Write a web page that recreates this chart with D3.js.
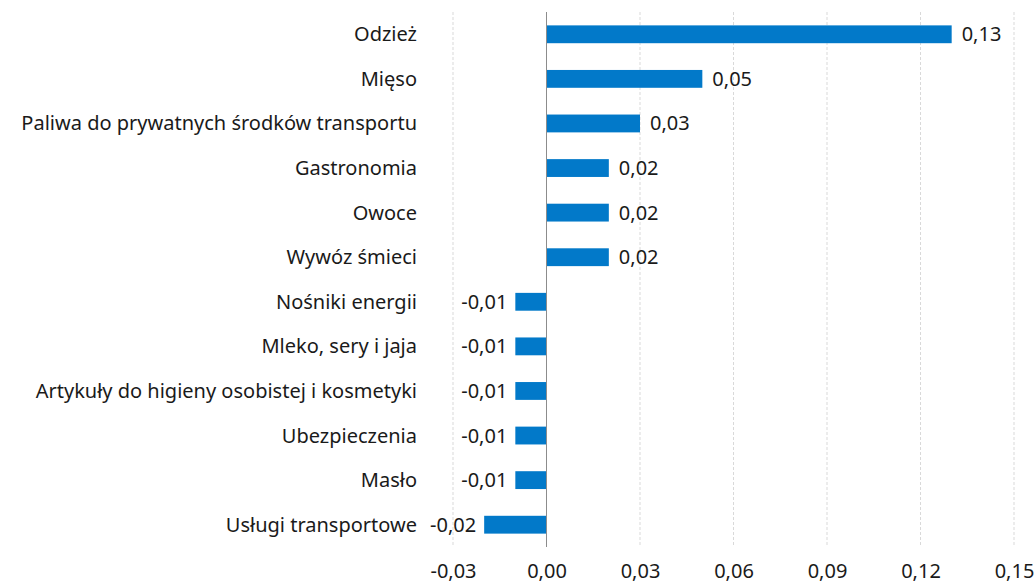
<!DOCTYPE html>
<html>
<head>
<meta charset="utf-8">
<script src="https://cdn.jsdelivr.net/npm/d3@7"></script>
<style>
  body { margin: 0; background: #fff; }
  text { font-family: "Noto Sans", sans-serif; fill: #1a1a1a; }
</style>
</head>
<body>
<div id="chart"></div>
<script>
const categories = [
  'Odzież', 'Mięso', 'Paliwa do prywatnych środków transportu', 'Gastronomia',
  'Owoce', 'Wywóz śmieci', 'Nośniki energii', 'Mleko, sery i jaja',
  'Artykuły do higieny osobistej i kosmetyki', 'Ubezpieczenia', 'Masło', 'Usługi transportowe'
]
const values = [0.13, 0.05, 0.03, 0.02, 0.02, 0.02, -0.01, -0.01, -0.01, -0.01, -0.01, -0.02]
const ticks = [-0.03, 0, 0.03, 0.06, 0.09, 0.12, 0.15]

const width = 1035
const height = 583
const margin = { top: 12, right: 21, bottom: 36, left: 453 }

const fmt = v => d3.format('.2f')(v).replace('.', ',').replace('−', '-')

const svg = d3.select('#chart').append('svg')
  .attr('width', width)
  .attr('height', height)

const x = d3.scaleLinear()
  .domain([-0.03, 0.15])
  .range([margin.left, width - margin.right])

const y = d3.scaleBand()
  .domain(categories)
  .range([margin.top, height - margin.bottom])
  .paddingInner(0.6)
  .paddingOuter(0.3)

// gridlines
svg.append('g')
  .selectAll('line')
  .data(ticks.filter(t => t !== 0))
  .enter().append('line')
  .attr('x1', d => x(d)).attr('x2', d => x(d))
  .attr('y1', margin.top).attr('y2', height - margin.bottom)
  .attr('stroke', '#d9d9d9')
  .attr('stroke-dasharray', '3,2')

// bars
svg.append('g')
  .selectAll('rect')
  .data(values)
  .enter().append('rect')
  .attr('x', d => x(Math.min(0, d)))
  .attr('width', d => Math.abs(x(d) - x(0)))
  .attr('y', (d, i) => y(categories[i]))
  .attr('height', y.bandwidth())
  .attr('fill', '#0279c9')

// zero line
svg.append('line')
  .attr('x1', x(0)).attr('x2', x(0))
  .attr('y1', margin.top).attr('y2', height - margin.bottom)
  .attr('stroke', '#8c8c8c')
  .attr('stroke-width', 1)

// value labels
svg.append('g')
  .selectAll('text')
  .data(values)
  .enter().append('text')
  .attr('x', d => d >= 0 ? x(d) + 10 : x(d) - 8)
  .attr('y', (d, i) => y(categories[i]) + y.bandwidth() / 2)
  .attr('dy', '0.35em')
  .attr('text-anchor', d => d >= 0 ? 'start' : 'end')
  .style('font-size', '20px')
  .text(d => fmt(d))

// category labels
svg.append('g')
  .selectAll('text')
  .data(categories)
  .enter().append('text')
  .attr('x', 417)
  .attr('y', d => y(d) + y.bandwidth() / 2)
  .attr('dy', '0.35em')
  .attr('text-anchor', 'end')
  .style('font-size', '20px')
  .text(d => d)

// x tick labels (kept just inside the bottom edge)
const xAxis = d3.axisBottom(x)
  .tickValues(ticks)
  .tickSize(0)
  .tickPadding(0)
  .tickFormat(fmt)

svg.append('g')
  .attr('transform', `translate(0,${height - margin.bottom})`)
  .call(xAxis)
  .call(g => g.select('.domain').remove())
  .call(g => g.selectAll('text')
    .attr('y', 24)
    .attr('dy', '0.35em')
    .style('font-size', '20px')
    .style('font-family', '"Noto Sans", sans-serif')
    .attr('fill', '#1a1a1a'))
</script>
</body>
</html>
